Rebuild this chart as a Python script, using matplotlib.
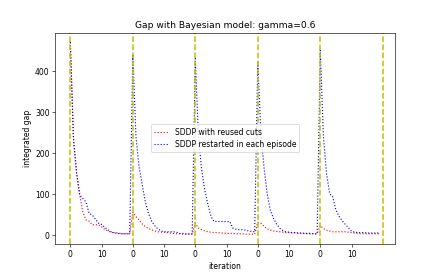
import matplotlib
matplotlib.use("Agg")
import matplotlib.pyplot as plt
import numpy as np

episode_len = 20
n_episodes = 5

reused = [
    470, 235, 150, 97, 55, 36, 33, 24, 24, 24, 19, 13, 9, 6, 4, 3, 2, 2, 2, 2,
    55, 44, 36, 26, 20, 15, 12, 9, 7, 6, 6, 5, 4, 3, 2, 2, 1, 1, 1, 1,
    28, 16, 12, 9, 7, 6, 5, 5, 4, 4, 3, 3, 3, 2, 2, 2, 1, 1, 1, 1,
    30, 28, 20, 14, 11, 9, 8, 7, 6, 5, 5, 4, 4, 3, 3, 3, 2, 2, 2, 2,
    22, 15, 11, 9, 7, 7, 7, 7, 7, 6, 5, 4, 3, 2, 2, 2, 2, 2, 2, 2,
]
restarted = [
    470, 235, 150, 97, 88, 80, 52, 48, 38, 28, 25, 18, 12, 7, 5, 4, 3, 2, 2, 2,
    440, 240, 165, 122, 80, 52, 33, 22, 14, 9, 7, 7, 7, 7, 6, 3, 3, 2, 2, 2,
    430, 240, 160, 110, 75, 45, 32, 32, 32, 32, 32, 32, 16, 13, 12, 12, 11, 9, 8, 7,
    420, 245, 163, 100, 60, 40, 26, 16, 10, 7, 6, 5, 5, 4, 4, 3, 3, 3, 2, 2,
    450, 240, 150, 100, 92, 60, 45, 34, 25, 17, 8, 6, 5, 5, 5, 4, 4, 4, 4, 4,
]
tick_labels = ["0", "10"] * n_episodes

dpi = 54.875
fig, ax = plt.subplots(figsize=(8.0, 5.0), dpi=dpi)
x = np.arange(len(reused))
ax.plot(x, reused, 'r:', label='SDDP with reused cuts')
ax.plot(x, restarted, 'b:', label='SDDP restarted in each episode')
for e in range(n_episodes + 1):
    ax.axvline(e * episode_len, color='y', linestyle='--', linewidth=2.0)
ax.set_xticks(np.arange(0, n_episodes * episode_len, 10))
ax.set_xticklabels(tick_labels)
ax.set_xlabel('iteration')
ax.set_ylabel('integrated gap')
ax.set_title('Gap with Bayesian model: gamma=0.6')
ax.legend(loc='center')
fig.savefig('out.png', dpi=dpi)
